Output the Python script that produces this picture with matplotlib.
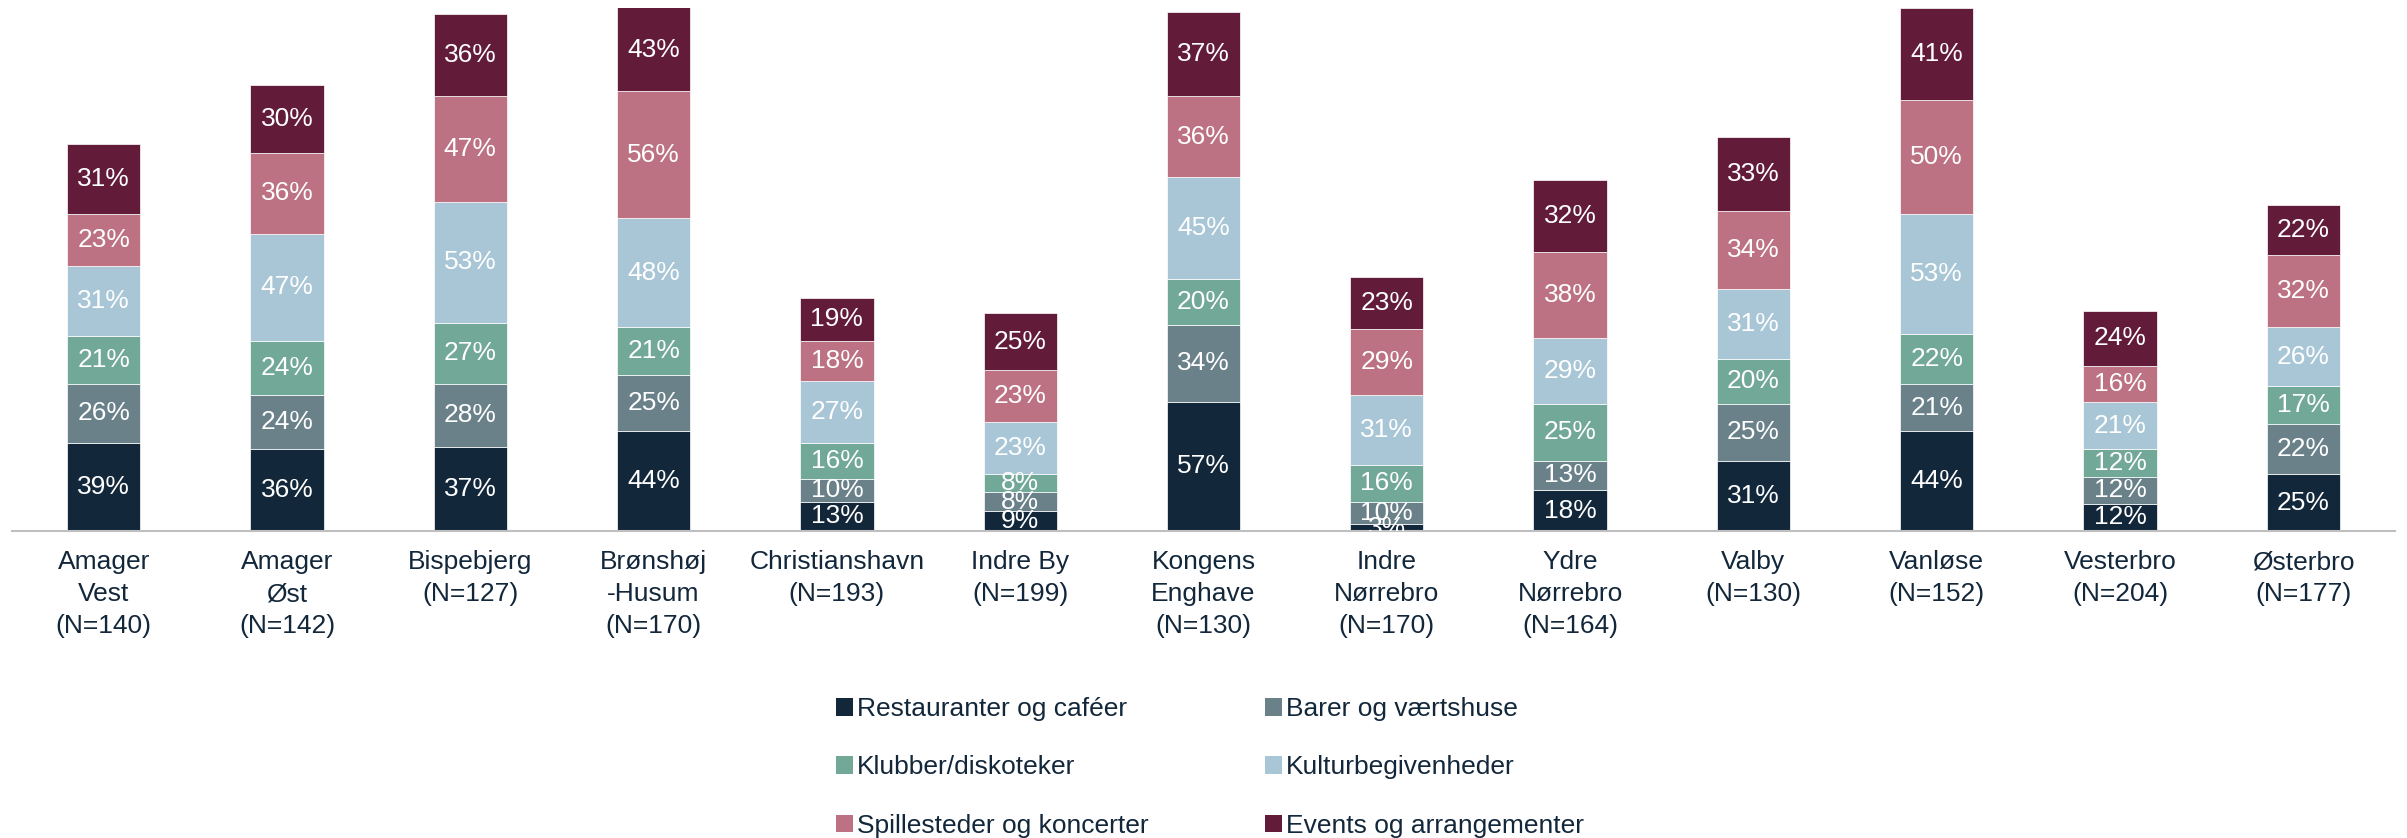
import numpy as np
import matplotlib.pyplot as plt
from matplotlib.patches import Patch

plt.rcParams['font.family'] = ['Liberation Sans', 'DejaVu Sans']

districts = ['Amager\nVest\n(N=140)', 'Amager\nØst\n(N=142)', 'Bispebjerg\n(N=127)',
             'Brønshøj\n-Husum\n(N=170)', 'Christianshavn\n(N=193)', 'Indre By\n(N=199)',
             'Kongens\nEnghave\n(N=130)', 'Indre\nNørrebro\n(N=170)', 'Ydre\nNørrebro\n(N=164)',
             'Valby\n(N=130)', 'Vanløse\n(N=152)', 'Vesterbro\n(N=204)', 'Østerbro\n(N=177)']

series_names = ['Restauranter og caféer', 'Barer og værtshuse', 'Klubber/diskoteker',
                'Kulturbegivenheder', 'Spillesteder og koncerter', 'Events og arrangementer']

restauranter = [39, 36, 37, 44, 13, 9, 57, 3, 18, 31, 44, 12, 25]
barer = [26, 24, 28, 25, 10, 8, 34, 10, 13, 25, 21, 12, 22]
klubber = [21, 24, 27, 21, 16, 8, 20, 16, 25, 20, 22, 12, 17]
kultur = [31, 47, 53, 48, 27, 23, 45, 31, 29, 31, 53, 21, 26]
spillesteder = [23, 36, 47, 56, 18, 23, 36, 29, 38, 34, 50, 16, 32]
events = [31, 30, 36, 43, 19, 25, 37, 23, 32, 33, 41, 24, 22]

colors = ['#13273b', '#6a818a', '#72a897', '#a8c6d6', '#bc7282', '#621c3a']
text_color = '#13273b'

data = np.array([restauranter, barer, klubber, kultur, spillesteder, events])

fig = plt.figure(figsize=(24.07, 8.38), dpi=100)
ax = fig.add_axes([12 / 2407, 307 / 838, 2383 / 2407, 523 / 838])

ymax = 230.8
x = np.arange(len(districts))
bottom = np.zeros(len(districts))
for i in range(len(series_names)):
    vals = data[i]
    ax.bar(x, vals, 0.4, bottom=bottom, color=colors[i], edgecolor='white',
           linewidth=0.5, label=series_names[i])
    for j in range(len(x)):
        top = min(bottom[j] + vals[j], ymax)
        ax.text(x[j], (bottom[j] + top) / 2, f'{vals[j]}%', ha='center', va='center',
                color='white', fontsize=19, clip_on=True)
    bottom = bottom + vals

ax.set_xlim(-0.5, len(districts) - 0.5)
ax.set_ylim(0, ymax)
ax.set_xticks(x)
ax.set_xticklabels(districts, fontsize=19, color=text_color, linespacing=1.4)
ax.tick_params(axis='x', length=0, pad=14)
ax.set_yticks([])
for s in ['top', 'right', 'left']:
    ax.spines[s].set_visible(False)
ax.spines['bottom'].set_color('#bfbfbf')
ax.spines['bottom'].set_linewidth(1.5)

handles = [Patch(facecolor=c, edgecolor='none') for c in colors]
order = [0, 2, 4, 1, 3, 5]
leg = fig.legend([handles[k] for k in order], [series_names[k] for k in order],
                 ncol=2, loc='upper left', bbox_to_anchor=(836 / 2407, 1 - 697 / 838),
                 frameon=False, fontsize=19, handlelength=0.65, handleheight=0.65,
                 handletextpad=0.15, columnspacing=4.4, labelspacing=1.3,
                 borderpad=0, borderaxespad=0)
for t in leg.get_texts():
    t.set_color(text_color)

fig.savefig('out.png', dpi=100)
